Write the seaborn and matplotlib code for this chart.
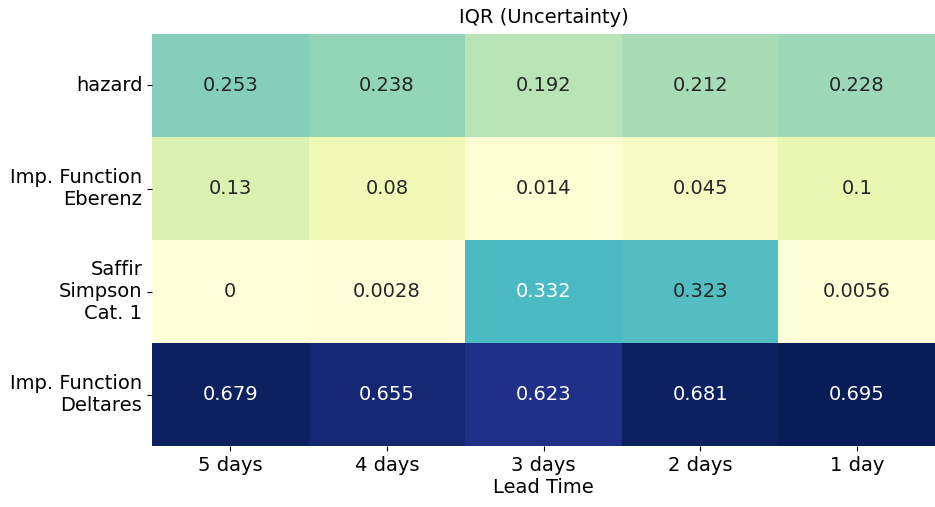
import matplotlib
matplotlib.use("Agg")
import matplotlib.pyplot as plt
import seaborn as sns
import pandas as pd

lead_times = ["5 days", "4 days", "3 days", "2 days", "1 day"]
sources = ["hazard", "Imp. Function\nEberenz", "Saffir\nSimpson\nCat. 1", "Imp. Function\nDeltares"]

hazard = [0.253, 0.238, 0.192, 0.212, 0.228]
eberenz = [0.13, 0.08, 0.014, 0.045, 0.1]
saffir = [0, 0.0028, 0.332, 0.323, 0.0056]
deltares = [0.679, 0.655, 0.623, 0.681, 0.695]

df = pd.DataFrame([hazard, eberenz, saffir, deltares], index=sources, columns=lead_times)

fig = plt.figure(figsize=(9.35, 5.07), dpi=100)
ax = fig.add_axes([0.1626, 0.120, 0.8374, 0.813])
sns.heatmap(df, annot=True, fmt=".4g", cmap="YlGnBu", cbar=False, ax=ax,
            annot_kws={"fontsize": 14})
ax.set_title("IQR (Uncertainty)", fontsize=14, pad=8)
ax.set_xlabel("Lead Time", fontsize=14, labelpad=2)
ax.set_ylabel("")
ax.tick_params(axis="both", labelsize=14)
ax.tick_params(axis="y", rotation=0)

fig.savefig("out.png", dpi=100)
